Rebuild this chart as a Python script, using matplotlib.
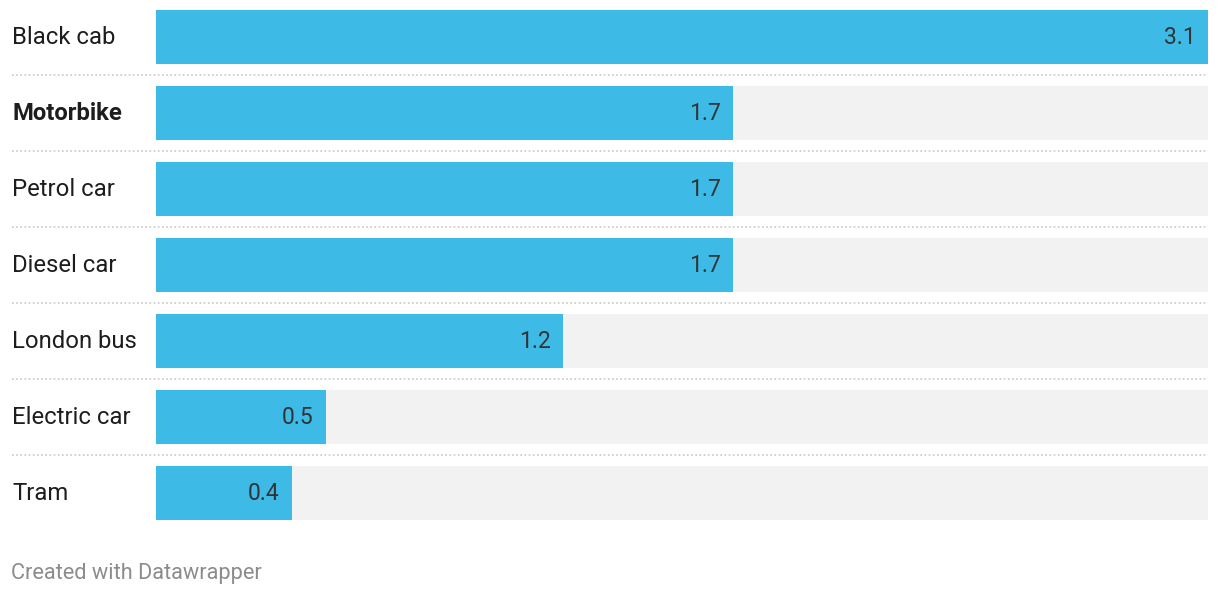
import matplotlib
matplotlib.use("Agg")
import matplotlib.pyplot as plt
import matplotlib.transforms as mtransforms

# data
categories = ["Black cab", "Motorbike", "Petrol car", "Diesel car",
              "London bus", "Electric car", "Tram"]
values = [3.1, 1.7, 1.7, 1.7, 1.2, 0.5, 0.4]
value_labels = ["3.1", "1.7", "1.7", "1.7", "1.2", "0.5", "0.4"]
bold_category = "Motorbike"
footer = "Created with Datawrapper"

plt.rcParams['font.family'] = ['Roboto', 'DejaVu Sans']

W, H = 1220, 596
fig = plt.figure(figsize=(W / 100, H / 100), dpi=100)
fig.patch.set_facecolor("white")

# axes covers the bar area horizontally, full height vertically
left_px, right_px = 156, 1208
ax = fig.add_axes([left_px / W, 0, (right_px - left_px) / W, 1])
row_px = 76
first_center = 36.75
ax.set_ylim((H - first_center) / row_px, -first_center / row_px)
ax.set_xlim(0, max(values))
ax.axis("off")

ypos = list(range(len(categories)))
bar_h = 54 / row_px

# grey background tracks
ax.barh(ypos, [max(values)] * len(values), height=bar_h, color="#f2f2f2", linewidth=0)
ax.barh(ypos, values, height=bar_h, color="#3dbbe6", linewidth=0)

label_tr = mtransforms.blended_transform_factory(fig.transFigure, ax.transData)
for y, cat, v, lab in zip(ypos, categories, values, value_labels):
    ax.text(12 / W, y + 0.01, cat, transform=label_tr, ha="left", va="center",
            fontsize=17.2, color="#1d1d1d",
            fontweight="bold" if cat == bold_category else "normal")
    ax.annotate(lab, xy=(v, y + 0.01), xytext=(-8.5, 0), textcoords="offset points",
                ha="right", va="center", fontsize=16.5, color="#333333")

# dotted separators between rows
for y in ypos[:-1]:
    ax.plot([12 / W, right_px / W], [y + 0.5, y + 0.5], transform=label_tr,
            color="#c8c8c8", linestyle=(0, (1, 1.5)), linewidth=1.2,
            clip_on=False)

fig.text(11 / W, 1 - 573 / H, footer, ha="left", va="center",
         fontsize=15.7, color="#8c8c8c")

fig.savefig("out.png", dpi=100, facecolor="white")
